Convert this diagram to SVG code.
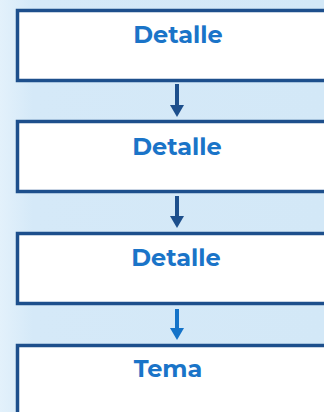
<svg xmlns="http://www.w3.org/2000/svg" width="324" height="412" viewBox="0 0 324 412">
<defs>
<linearGradient id="bg" x1="0" y1="0" x2="1" y2="0">
<stop offset="0" stop-color="#e3f1fb"/>
<stop offset="0.1" stop-color="#d5e9f8"/>
<stop offset="1" stop-color="#d3e8f7"/>
</linearGradient>
</defs>
<style>
.box{fill:#ffffff;stroke:#1d4f8c;stroke-width:3.5}
.lbl{font-family:"Montserrat","Open Sans","Liberation Sans",sans-serif;font-weight:700;font-size:24px;fill:#1a74c8;text-anchor:middle}
.arr{stroke:#1d4f8c;stroke-width:4;fill:none}
</style>
<rect width="324" height="412" fill="url(#bg)"/>
<g id="connectors">
<line class="arr" x1="177" y1="84" x2="177" y2="107"/>
<path d="M170,105 L184,105 L177,117 Z" fill="#1d4f8c"/>
<line class="arr" x1="177" y1="196" x2="177" y2="218"/>
<path d="M170,216 L184,216 L177,228 Z" fill="#1d4f8c"/>
<line class="arr" x1="177" y1="309" x2="177" y2="330" style="stroke:#1473c8"/>
<path d="M170,328 L184,328 L177,340 Z" fill="#1473c8"/>
</g>
<g id="node1">
<rect class="box" x="17.5" y="10.5" width="330" height="70"/>
<text class="lbl" x="178" y="43">Detalle</text>
</g>
<g id="node2">
<rect class="box" x="17.5" y="121.5" width="330" height="70"/>
<text class="lbl" x="177" y="155">Detalle</text>
</g>
<g id="node3">
<rect class="box" x="17.5" y="233.5" width="330" height="70"/>
<text class="lbl" x="176" y="266">Detalle</text>
</g>
<g id="node4">
<rect class="box" x="17.5" y="345.5" width="330" height="90"/>
<text class="lbl" x="168" y="377">Tema</text>
</g>
</svg>
